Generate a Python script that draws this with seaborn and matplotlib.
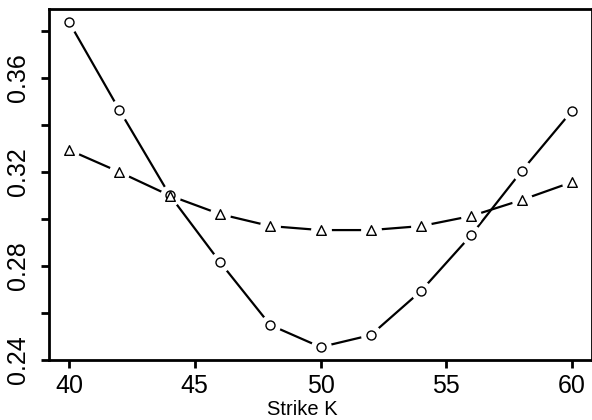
import numpy as np
import pandas as pd
import seaborn as sns
import matplotlib.pyplot as plt

sns.set_style("white")
plt.rcParams['font.family'] = ['Liberation Sans', 'DejaVu Sans']

strike = [40, 42, 44, 46, 48, 50, 52, 54, 56, 58, 60]
vol_circle = [0.3838, 0.3464, 0.3102, 0.2817, 0.2549, 0.2455, 0.2506, 0.2694, 0.2932, 0.3204, 0.3460]
vol_triangle = [0.3294, 0.3200, 0.3100, 0.3021, 0.2970, 0.2953, 0.2953, 0.2970, 0.3013, 0.3081, 0.3157]

fig = plt.figure(figsize=(5.92, 4.2), dpi=100)
ax = fig.add_axes([49 / 592, 60 / 420, 543 / 592, 351 / 420])

# each series: line with big white markers (gaps like R type="b"), then open markers on top
for vols, mk, sz in [(vol_circle, 'o', 42), (vol_triangle, '^', 48)]:
    d = pd.DataFrame({'K': strike, 'vol': vols})
    sns.lineplot(data=d, x='K', y='vol', color='black', lw=1.6, marker='o',
                 markersize=15, markerfacecolor='white', markeredgecolor='white',
                 markeredgewidth=0, ax=ax, zorder=2)
    sns.scatterplot(data=d, x='K', y='vol', marker=mk, facecolor='white',
                    edgecolor='black', linewidth=1.0, s=sz, ax=ax, zorder=4)

ax.set_xlim(39.2, 60.8)
ax.set_ylim(0.24, 0.3894)
ax.set_xticks([40, 45, 50, 55, 60])
yt = [0.24, 0.26, 0.28, 0.30, 0.32, 0.34, 0.36, 0.38]
ax.set_yticks(yt)
ax.set_yticklabels(['0.24', '', '0.28', '', '0.32', '', '0.36', ''])
for lab in ax.get_yticklabels():
    lab.set_rotation(90)
    lab.set_va('center')

ax.tick_params(axis='both', direction='out', length=6, width=2, labelsize=18,
               color='black', labelcolor='black', bottom=True, left=True)
ax.tick_params(axis='x', pad=4)
ax.tick_params(axis='y', pad=8)
for s in ax.spines.values():
    s.set_linewidth(2)
    s.set_color('black')

ax.set_ylabel('')
ax.set_xlabel('Strike K', fontsize=14.5, color='black')
ax.xaxis.set_label_coords((302 - 49) / 543, -0.115)

fig.savefig('out.png', dpi=100)
